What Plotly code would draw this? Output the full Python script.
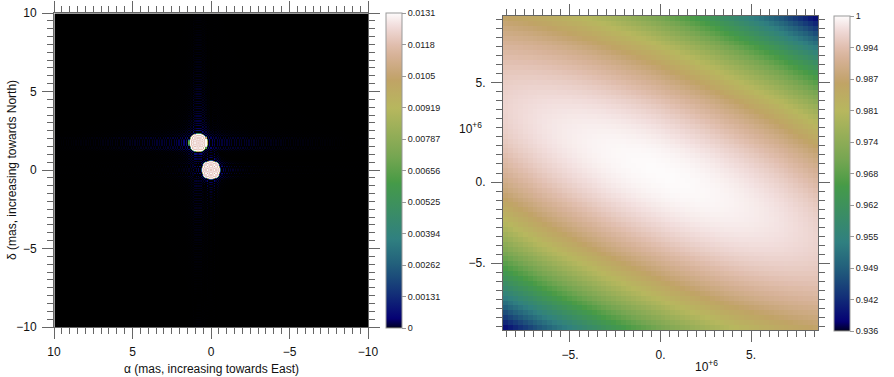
import numpy as np
import plotly.graph_objects as go

# ---------------- data (model) ----------------
comp_alpha_mas = [0.0, 0.81]      # component positions (East offset)
comp_delta_mas = [0.0, 1.74]      # component positions (North offset)
comp_flux = [0.5, 0.5]            # relative fluxes
comp_diam_mas = [1.2, 1.2]        # uniform-disk diameters

image_fov_mas = 20.0
image_npix = 256
image_peak = 0.01312              # colour-bar maximum of the image
disk_level = 0.95                 # disk plateau as a fraction of the colour-bar maximum

uv_max_1e6 = 8.7                  # half-width of the (u,v) map, in 1e6 wavelengths
uv_npix = 64
vis_min, vis_max = 0.936, 1.0

img_cbar_labels = ["0", "0.00131", "0.00262", "0.00394", "0.00525", "0.00656",
                   "0.00787", "0.00919", "0.0105", "0.0118", "0.0131"]
vis_cbar_labels = ["0.936", "0.942", "0.949", "0.955", "0.962", "0.968",
                   "0.974", "0.981", "0.987", "0.994", "1"]
img_ticks = [10, 5, 0, -5, -10]
uv_xtick_vals = [-5, 0, 5]
uv_xtick_text = ["\u22125.", "0.", "5."]
uv_ytick_vals = [5, -0.5, -5]
uv_ytick_text = ["5.", "0.", "\u22125."]

MAS = np.pi / 180 / 3600 / 1000


def j1(x):
    t = np.linspace(0, np.pi, 401)
    vals = np.cos(t[None, :] - x.reshape(-1, 1) * np.sin(t[None, :]))
    return (np.trapezoid(vals, t, axis=1) / np.pi).reshape(x.shape)


def disk_vis(rho_cyc_per_mas, d):
    x = np.pi * d * rho_cyc_per_mas
    out = np.ones_like(x)
    nz = x > 1e-9
    out[nz] = 2 * j1(x[nz]) / x[nz]
    return out


def model_vis(u, v):  # u, v in cycles / mas
    rho = np.hypot(u, v)
    tot = np.zeros(u.shape, dtype=complex)
    for a, d_, f, dm in zip(comp_alpha_mas, comp_delta_mas, comp_flux, comp_diam_mas):
        tot += f * disk_vis(rho, dm) * np.exp(-2j * np.pi * (u * a + v * d_))
    return tot / sum(comp_flux)


# image: inverse DFT of the model visibilities on the image frequency grid
pix = image_fov_mas / image_npix
fq = np.fft.fftfreq(image_npix, d=pix)
U, V = np.meshgrid(fq, fq)
img = np.fft.fftshift(np.fft.ifft2(model_vis(U, V))).real
pos = (np.arange(image_npix) - image_npix // 2) * pix
ci = image_npix // 2
plateau = img[ci - 2:ci + 3, ci - 2:ci + 3].mean()
img = np.clip(img / plateau * disk_level * image_peak, None, image_peak)

# visibility amplitude map
uv_edges = np.linspace(-uv_max_1e6, uv_max_1e6, uv_npix + 1)
uv_c = 0.5 * (uv_edges[1:] + uv_edges[:-1])
UU, VV = np.meshgrid(uv_c, uv_c)
vis = np.abs(model_vis(UU * 1e6 * MAS, VV * 1e6 * MAS))

# ---------------- gist_earth palette ----------------
R = [(0.0, 0.0), (0.2824, 0.1882), (0.4588, 0.2714), (0.5490, 0.4719), (0.6980, 0.7176),
     (0.7882, 0.7553), (1.0, 0.9922)]
G = [(0.0, 0.0), (0.0275, 0.0), (0.1098, 0.1893), (0.1647, 0.3035), (0.2078, 0.3841),
     (0.2824, 0.5020), (0.5216, 0.6397), (0.6980, 0.7171), (0.7882, 0.6392), (0.7922, 0.6413),
     (0.8, 0.6447), (0.8078, 0.6481), (0.8157, 0.6549), (0.8667, 0.6991), (0.8745, 0.7103),
     (0.8824, 0.7216), (0.8902, 0.7323), (0.8980, 0.7430), (0.9412, 0.8275), (0.9569, 0.8635),
     (0.9647, 0.8816), (0.9961, 0.9733), (1.0, 0.9843)]
B = [(0.0, 0.0), (0.0039, 0.1684), (0.0078, 0.2212), (0.0275, 0.4329), (0.0314, 0.4549),
     (0.2824, 0.5004), (0.4667, 0.2748), (0.5451, 0.3205), (0.7843, 0.3961), (0.8941, 0.6651),
     (1.0, 0.9843)]
stops = sorted(set([p for p, _ in R] + [p for p, _ in G] + [p for p, _ in B]))


def ch(tab, s):
    return np.interp(s, [p for p, _ in tab], [c for _, c in tab])


earth = [[s, "rgb(%d,%d,%d)" % (round(255 * ch(R, s)), round(255 * ch(G, s)), round(255 * ch(B, s)))]
         for s in stops]

FONT = "Liberation Sans, Arial, sans-serif"
TICKC = "#666"
W, H = 894, 377


def px(x):
    return x / W


def py(y):
    return 1 - y / H


fig = go.Figure()
fig.add_trace(go.Heatmap(
    x=pos, y=pos, z=img, colorscale=earth, zmin=0, zmax=image_peak,
    xaxis="x", yaxis="y", hoverinfo="skip",
    colorbar=dict(x=px(386), xanchor="left", xpad=0, y=py(170.5), yanchor="middle",
                  len=315 / H, lenmode="fraction", thickness=16, ypad=0,
                  outlinewidth=1, outlinecolor="#999",
                  tickvals=[image_peak * k / 10 for k in range(11)], ticktext=img_cbar_labels,
                  ticks="outside", ticklen=4, tickcolor="#999",
                  tickfont=dict(family=FONT, size=9, color="#222")),
))
fig.add_trace(go.Heatmap(
    x=uv_c, y=uv_c, z=vis, colorscale=earth, zmin=vis_min, zmax=vis_max,
    xaxis="x2", yaxis="y2", hoverinfo="skip",
    colorbar=dict(x=px(834), xanchor="left", xpad=0, y=py(173.5), yanchor="middle",
                  len=315 / H, lenmode="fraction", thickness=16, ypad=0,
                  outlinewidth=1, outlinecolor="#999",
                  tickvals=[vis_min + (vis_max - vis_min) * k / 10 for k in range(11)],
                  ticktext=vis_cbar_labels,
                  ticks="outside", ticklen=4, tickcolor="#999",
                  tickfont=dict(family=FONT, size=9, color="#222")),
))

axcommon = dict(showgrid=False, zeroline=False, showline=True, linecolor=TICKC, linewidth=1,
                mirror="ticks", ticks="outside", ticklen=11, tickcolor=TICKC, tickwidth=1,
                automargin=False, ticklabeloverflow="allow",
                tickfont=dict(family=FONT, size=12, color="#111"),
                minor=dict(ticks="outside", ticklen=6, tickcolor=TICKC, dtick=0.5, showgrid=False))

ann_font = dict(family=FONT, size=12, color="#111")

fig.update_layout(
    width=W, height=H, margin=dict(l=0, r=0, t=0, b=0, autoexpand=False),
    paper_bgcolor="white", plot_bgcolor="white", showlegend=False,
    xaxis=dict(domain=[px(54), px(368)], anchor="y", range=[10, -10],
               tickvals=img_ticks, ticklabelstandoff=3, **axcommon),
    yaxis=dict(domain=[py(327), py(13)], anchor="x", range=[-10, 10],
               tickvals=img_ticks, ticklabelstandoff=3, **axcommon),
    xaxis2=dict(domain=[px(503), px(818)], anchor="y2", range=[-uv_max_1e6, uv_max_1e6],
                tickvals=uv_xtick_vals, ticktext=uv_xtick_text, ticklabelstandoff=3, **axcommon),
    yaxis2=dict(domain=[py(330), py(16)], anchor="x2", range=[-uv_max_1e6, uv_max_1e6],
                tickvals=uv_ytick_vals, ticktext=uv_ytick_text, ticklabelstandoff=3, **axcommon),
    annotations=[
        dict(text="\u03b1 (mas, increasing towards East)", x=px(211), y=py(369), xref="paper",
             yref="paper", xanchor="center", yanchor="middle", showarrow=False, font=ann_font),
        dict(text="\u03b4 (mas, increasing towards North)", x=px(12), y=py(170), xref="paper",
             yref="paper", xanchor="center", yanchor="middle", showarrow=False, textangle=-90,
             font=ann_font),
        dict(text="10<sup>+6</sup>", x=px(470), y=py(128), xref="paper", yref="paper",
             xanchor="center", yanchor="middle", showarrow=False, font=ann_font),
        dict(text="10<sup>+6</sup>", x=px(706), y=py(366), xref="paper", yref="paper",
             xanchor="center", yanchor="middle", showarrow=False, font=ann_font),
    ],
)

# remove the browser's default 8px page margin so the figure fills the window exactly
fig.write_html("out.html", config={"displayModeBar": False},
               post_script="document.body.style.margin='0';document.body.style.overflow='hidden';")
